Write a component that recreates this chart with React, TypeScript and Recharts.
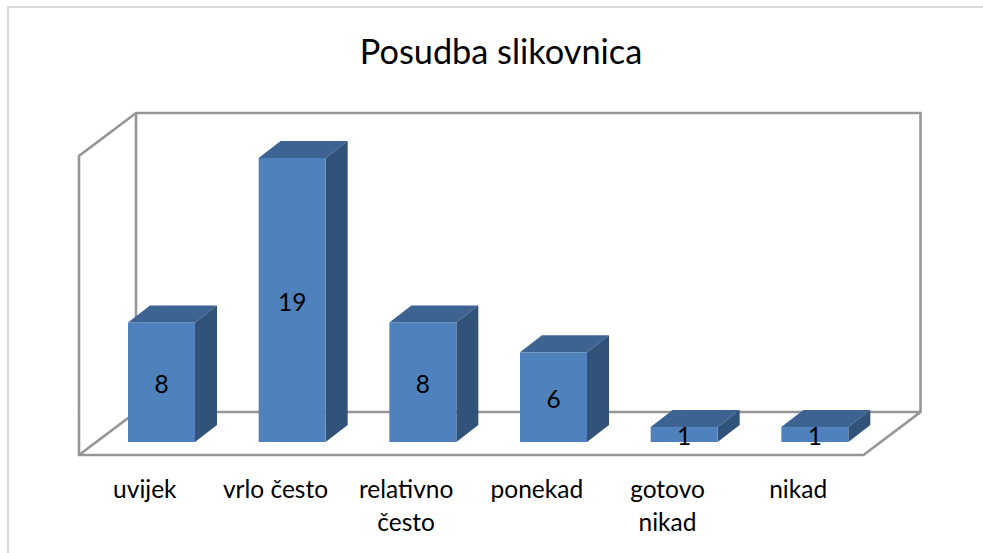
import { Bar, BarChart, LabelList, XAxis, YAxis, usePlotArea } from "recharts";

const categories = ["uvijek", "vrlo često", "relativno često", "ponekad", "gotovo nikad", "nikad"];
const tickLines = [["uvijek"], ["vrlo često"], ["relativno", "često"], ["ponekad"], ["gotovo", "nikad"], ["nikad"]];
const counts = [8, 19, 8, 6, 1, 1];

const data = categories.map((name, i) => ({ name, count: counts[i] }));

const FONT = "Lato, 'Open Sans', sans-serif";
const DEPTH_X = 22;
const DEPTH_Y = 17;

// wall frame of the fake 3D box, placed relative to the plot area
function Walls() {
  const plot = usePlotArea();
  if (!plot) return null;
  const left = plot.x - 17;
  const right = plot.x + plot.width - 16.5;
  const top = plot.y + 13;
  const bottom = plot.y + plot.height + 13;
  const dx = 57;
  const dy = 43;
  const d = `M${left} ${top} L${left} ${bottom} L${right} ${bottom} L${right + dx} ${bottom - dy} L${right + dx} ${top - dy} L${left + dx} ${top - dy} Z
    M${left} ${bottom} L${left + dx} ${bottom - dy} L${left + dx} ${top - dy}
    M${left + dx} ${bottom - dy} L${right + dx} ${bottom - dy}`;
  return <path d={d} fill="none" stroke="#969696" strokeWidth={2.6} />;
}

function Bar3D({ x, y, width, height }: any) {
  const r = x + width;
  const b = y + height;
  return (
    <g>
      <polygon
        points={`${x},${y} ${x + DEPTH_X},${y - DEPTH_Y} ${r + DEPTH_X},${y - DEPTH_Y} ${r},${y}`}
        fill="#3c6391"
      />
      <polygon
        points={`${r},${y} ${r + DEPTH_X},${y - DEPTH_Y} ${r + DEPTH_X},${b - DEPTH_Y} ${r},${b}`}
        fill="#325379"
      />
      <rect x={x} y={y} width={width} height={height} fill="#4f81bd" />
    </g>
  );
}

function CategoryTick({ x, y, index }: any) {
  return (
    <text x={x - 16.5} y={y} textAnchor="middle" fontFamily={FONT} fontSize={24.5} fill="#000">
      {tickLines[index].map((line, i) => (
        <tspan key={line} x={x - 16.5} dy={i === 0 ? 48 : 33}>
          {line}
        </tspan>
      ))}
    </text>
  );
}

export default function App() {
  return (
    <div style={{ position: "absolute", left: 0, top: 0, width: 983, height: 553, background: "#fff" }}>
      <BarChart
        width={983}
        height={553}
        data={data}
        margin={{ top: 143, right: 103, bottom: 51, left: 96 }}
      >
        <rect x={8} y={7} width={1000} height={560} fill="none" stroke="#d9d9d9" strokeWidth={2} />
        <text x={501} y={64} textAnchor="middle" fontFamily={FONT} fontSize={34.3} fill="#000">
          Posudba slikovnica
        </text>
        <Walls />
        <XAxis dataKey="name" axisLine={false} tickLine={false} height={60} interval={0} tick={<CategoryTick />} />
        <YAxis hide domain={[0, 20]} />
        <Bar dataKey="count" barSize={67} shape={<Bar3D />} isAnimationActive={false}>
          <LabelList dataKey="count" position="center" dy={2} fontFamily={FONT} fontSize={24.5} fill="#000" />
        </Bar>
      </BarChart>
    </div>
  );
}
